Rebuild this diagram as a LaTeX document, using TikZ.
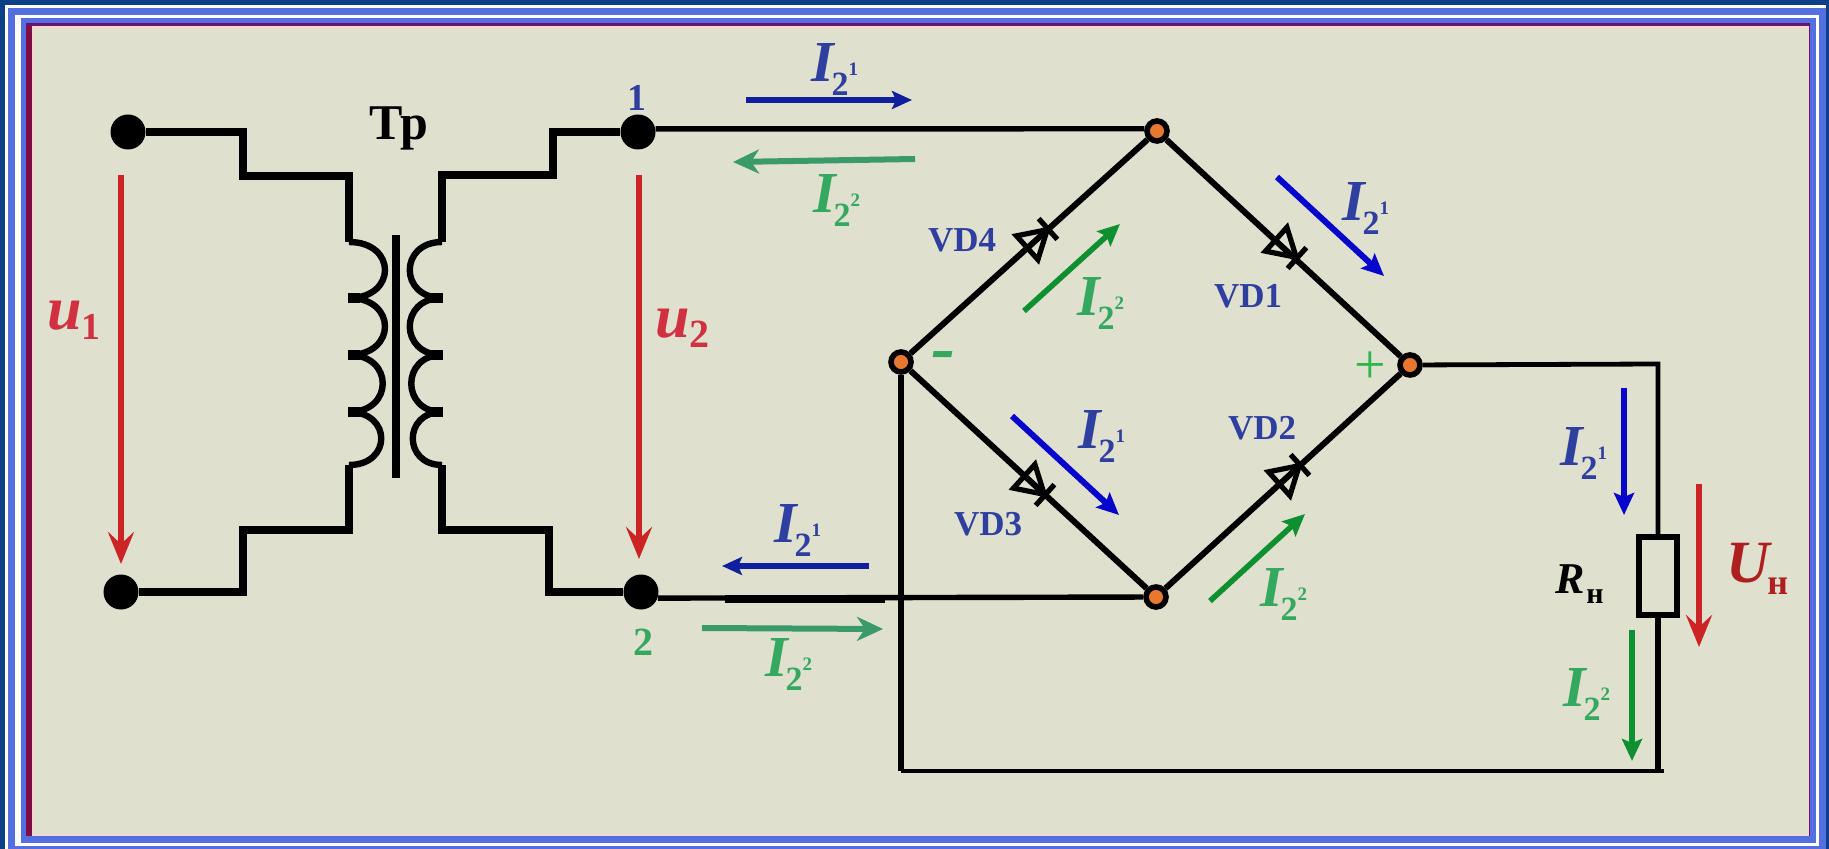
\documentclass[tikz,border=0pt]{standalone}
\usepackage{fontspec}
\setmainfont{Liberation Serif}
\usetikzlibrary{arrows.meta}
\definecolor{deepbg}{HTML}{0B3F86}
\definecolor{framebl}{HTML}{5470E0}
\definecolor{maroonf}{HTML}{7E0E48}
\definecolor{purplef}{HTML}{6A1270}
\definecolor{pinkf}{HTML}{F4D8D0}
\definecolor{paper}{HTML}{E0E0CF}
\definecolor{txtblue}{HTML}{2F3F9F}
\definecolor{txtgreen}{HTML}{35A860}
\definecolor{arrblue}{HTML}{0606CC}
\definecolor{arrnavy}{HTML}{101F9E}
\definecolor{arrgreen}{HTML}{0F9030}
\definecolor{arrteal}{HTML}{3A9A6A}
\definecolor{arrred}{HTML}{CC2424}
\definecolor{txtred}{HTML}{D03040}
\definecolor{darkred}{HTML}{AE2020}
\definecolor{jorange}{HTML}{E87830}
\newcommand\Icur[1]{{\fontsize{29}{30}\selectfont\bfseries\itshape I}\kern-1pt\raisebox{-7pt}{\fontsize{17}{17}\selectfont\bfseries 2}\raisebox{3pt}{\fontsize{9.5}{10}\selectfont\bfseries #1}}
\tikzset{
  x=0.5pt,y=-0.5pt,
  lbl/.style={inner sep=0pt,outer sep=0pt,anchor=base west},
  iblue/.style={lbl,text=txtblue},
  igreen/.style={lbl,text=txtgreen},
  vdlabel/.style={lbl,text=txtblue,font=\fontsize{17.5}{18}\selectfont\bfseries},
  terminal/.style={circle,fill=black,inner sep=0pt,minimum size=17.5pt},
  junction/.style={circle,fill=jorange,draw=black,line width=2.8pt,inner sep=0pt,minimum size=10pt},
  wire/.style={draw=black,line width=3pt,line join=miter},
  thickwire/.style={draw=black,line width=4.4pt,line join=miter},
  thinwire/.style={draw=black,line width=2.4pt},
  coil/.style={draw=black,line width=3.2pt},
  stub/.style={draw=black,line width=4.6pt},
  redarrow/.style={draw=arrred,line width=2.7pt,-{Stealth[length=16pt,width=13pt,inset=6pt]}},
  bluearrow/.style={draw=arrblue,line width=3pt,-{Stealth[length=11pt,width=10pt,inset=2pt]}},
  navyarrow/.style={draw=arrnavy,line width=2.7pt,-{Stealth[length=10pt,width=9pt,inset=2pt]}},
  greenarrow/.style={draw=arrgreen,line width=2.8pt,-{Stealth[length=11pt,width=10pt,inset=2pt]}},
  tealarrow/.style={draw=arrteal,line width=3pt,-{Stealth[length=13pt,width=12pt,inset=4pt]}},
  diodemark/.pic={
    \draw[black,line width=2.6pt,line join=miter] (-28,-16) -- (-1,0) -- (-28,16) -- cycle;
    \draw[black,line width=2.6pt] (0,-14) -- (0,14);
  },
}
\begin{document}
\begin{tikzpicture}
\useasboundingbox (0,0) rectangle (1829,849);
% frame
\fill[deepbg] (0,0) rectangle (1829,849);
\fill[white] (5,5) rectangle (1826,849);
\fill[framebl] (8,8) rectangle (1826,849);
\fill[white] (15,15) rectangle (1819,846);
\fill[framebl] (21,18) rectangle (1816,843);
\fill[purplef] (26,23) rectangle (1810,836);
\fill[maroonf] (26,26) rectangle (32,836);
\fill[pinkf] (32,26) rectangle (1809,836);
\fill[paper] (34,28) rectangle (1808,834);

% terminals and junctions
\node[terminal] (ta) at (128,132) {};
\node[terminal] (tb) at (121,592) {};
\node[terminal] (t1) at (638,132) {};
\node[terminal] (t2) at (641,592) {};
\node[junction] (jt) at (1157,131) {};
\node[junction] (jl) at (901,362) {};
\node[junction] (jr) at (1410,365) {};
\node[junction] (jb) at (1156,597) {};

% load
\node[draw=black,line width=3pt,inner sep=0pt,minimum width=19pt,minimum height=39pt] (rn) at (1658,576) {};
\coordinate (c1) at (1658,364);
\coordinate (c2) at (1658,771);
\coordinate (c2e) at (1664,771);
\coordinate (c3) at (901,771);
\draw[thinwire] (jr) -- (c1) -- (rn);
\draw[wire] (rn) -- (c2);
\draw[thinwire] (c2e) -- (c3);
\draw[wire] (jl) -- (c3);

% bridge
\draw[wire] (jt) -- (jr);
\draw[wire] (jl) -- (jt);
\draw[wire] (jl) -- (jb);
\draw[wire] (jb) -- (jr);
\draw[draw=black,line width=2.7pt] (t1.10) -- (jt.170);
\draw[draw=black,line width=2.7pt] (t2.-20) -- (jb);
\coordinate (w1) at (725,599);
\coordinate (w2) at (885,599);
\draw[draw=black,line width=3.6pt] (w1) -- (w2);
\pic[rotate=42] (vdf) at (1048,229) {diodemark};
\pic[rotate=-42] (vda) at (1297,258) {diodemark};
\pic[rotate=-42] (vdc) at (1045,495) {diodemark};
\pic[rotate=42] (vdb) at (1300,465) {diodemark};

% transformer
\coordinate (la) at (349,242);
\coordinate (lb) at (349,465);
\coordinate (ra) at (442,242);
\coordinate (rb) at (442,465);
\draw[thickwire] (ta) -- (243,132) -- (243,176) -- (349,176) -- (la);
\draw[thickwire] (tb) -- (243,592) -- (243,530) -- (349,530) -- (lb);
\draw[thickwire] (t1) -- (553,132) -- (553,175) -- (442,175) -- (ra);
\draw[thickwire] (t2) -- (549,592) -- (549,530) -- (442,530) -- (rb);
\draw[coil] (la) .. controls (397,242) and (397,298) .. (349,298)
  .. controls (397,298) and (397,355) .. (349,355)
  .. controls (394,355) and (394,412) .. (349,412)
  .. controls (392,412) and (392,465) .. (lb);
\draw[coil] (ra) .. controls (399,242) and (399,298) .. (442,298)
  .. controls (399,298) and (399,355) .. (442,355)
  .. controls (401,355) and (401,412) .. (442,412)
  .. controls (403,412) and (403,465) .. (rb);
\draw[stub] (348,298) -- (360,298) (348,355) -- (360,355) (348,412) -- (360,412);
\draw[stub] (443,298) -- (431,298) (443,355) -- (431,355) (443,412) -- (431,412);
\coordinate (core1) at (396,235);
\coordinate (core2) at (396,478);
\draw[black,line width=4pt] (core1) -- (core2);

% voltage arrows
\coordinate (u1s) at (121,175); \coordinate (u1e) at (121,564);
\coordinate (u2s) at (639,175); \coordinate (u2e) at (639,559);
\coordinate (uns) at (1699,484); \coordinate (une) at (1699,647);
\draw[redarrow] (u1s) -- (u1e);
\draw[redarrow] (u2s) -- (u2e);
\draw[redarrow] (uns) -- (une);

% current arrows
\coordinate (a1s) at (746,100); \coordinate (a1e) at (912,100);
\coordinate (a2s) at (915,159); \coordinate (a2e) at (733,162);
\coordinate (a3s) at (869,566); \coordinate (a3e) at (722,566);
\coordinate (a4s) at (702,628); \coordinate (a4e) at (883,629);
\coordinate (a5s) at (1277,177); \coordinate (a5e) at (1384,276);
\coordinate (a6s) at (1024,311); \coordinate (a6e) at (1120,224);
\coordinate (a7s) at (1012,416); \coordinate (a7e) at (1119,515);
\coordinate (a8s) at (1210,601); \coordinate (a8e) at (1305,514);
\coordinate (a9s) at (1624,388); \coordinate (a9e) at (1624,515);
\coordinate (a10s) at (1632,630); \coordinate (a10e) at (1632,761);
\draw[navyarrow] (a1s) -- (a1e);
\draw[tealarrow] (a2s) -- (a2e);
\draw[navyarrow] (a3s) -- (a3e);
\draw[tealarrow] (a4s) -- (a4e);
\draw[bluearrow] (a5s) -- (a5e);
\draw[greenarrow] (a6s) -- (a6e);
\draw[bluearrow] (a7s) -- (a7e);
\draw[greenarrow] (a8s) -- (a8e);
\draw[bluearrow] (a9s) -- (a9e);
\draw[greenarrow] (a10s) -- (a10e);

% current labels
\node[iblue] (i1) at (811,82) {\Icur{1}};
\node[igreen] (i2) at (813,213) {\Icur{2}};
\node[iblue] (i3) at (774,542) {\Icur{1}};
\node[igreen] (i4) at (765,676) {\Icur{2}};
\node[iblue] (i5) at (1342,221) {\Icur{1}};
\node[igreen] (i6) at (1077,316) {\Icur{2}};
\node[iblue] (i7) at (1078,449) {\Icur{1}};
\node[igreen] (i8) at (1260,606) {\Icur{2}};
\node[iblue] (i9) at (1560,466) {\Icur{1}};
\node[igreen] (i10) at (1563,706) {\Icur{2}};

% other labels
\node[vdlabel] (v4) at (928,252) {VD4};
\node[vdlabel] (v1) at (1214,308) {VD1};
\node[vdlabel] (v2) at (1228,440) {VD2};
\node[vdlabel] (v3) at (954,535) {VD3};
\node[lbl,font=\fontsize{25}{25}\selectfont\bfseries] (tp) at (369,140) {Тр};
\node[lbl,text=txtblue,font=\fontsize{19}{20}\selectfont\bfseries] (n1) at (627,111) {1};
\node[lbl,text=txtgreen,font=\fontsize{20}{20}\selectfont\bfseries] (n2) at (633,655) {2};
\node[lbl,text=txtred] (u1) at (47,330) {{\fontsize{31}{31}\selectfont\bfseries\itshape u}\raisebox{-5pt}{\fontsize{19}{19}\selectfont\bfseries 1}};
\node[lbl,text=txtred] (u2) at (655,338) {{\fontsize{31}{31}\selectfont\bfseries\itshape u}\raisebox{-5pt}{\fontsize{20}{20}\selectfont\bfseries 2}};
\node[lbl] (rl) at (1555,593) {{\fontsize{22}{22}\selectfont\bfseries\itshape R}\kern1pt\raisebox{-5pt}{\fontsize{15}{15}\selectfont\bfseries н}};
\node[lbl,text=darkred] (ul) at (1726,582) {{\fontsize{30}{30}\selectfont\bfseries\itshape U}\kern-1pt\raisebox{-6pt}{\fontsize{18}{18}\selectfont\bfseries н}};
\node[inner sep=0pt,text=txtgreen,font=\fontsize{36}{36}\selectfont\bfseries\itshape] (minus) at (943,362) {-};
\node[inner sep=0pt,text=arrteal!70!green,font=\fontsize{28}{28}\selectfont] (plus) at (1370,368) {+};
\end{tikzpicture}
\end{document}
